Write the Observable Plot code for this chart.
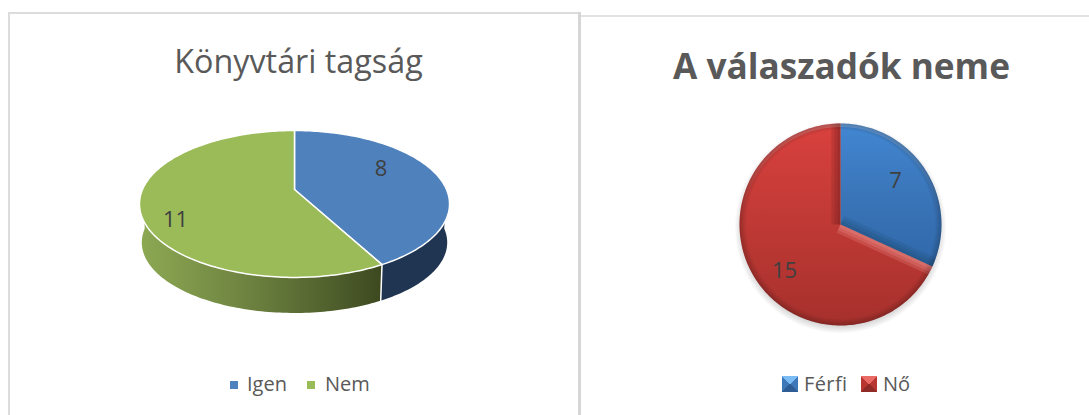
<!DOCTYPE html>
<html><head><meta charset="utf-8">
<script src="https://cdn.jsdelivr.net/npm/d3@7"></script>
<script src="https://cdn.jsdelivr.net/npm/@observablehq/plot@0.6"></script>
<style>
html,body{margin:0;padding:0;background:#fff;width:1089px;height:415px;overflow:hidden;}
.frame{position:absolute;background:#dcdcdc;}
.holder{position:absolute;top:0;}
.holder svg{display:block;background:transparent;}
.title{position:absolute;white-space:nowrap;transform:translateX(-50%);font-family:"Open Sans",sans-serif;}
.leg{position:absolute;white-space:nowrap;font:20px "Open Sans",sans-serif;color:#595959;}
.sw{position:absolute;}
</style></head><body>
<div class="frame" style="left:8px;top:12px;width:2px;height:403px"></div>
<div class="frame" style="left:8px;top:12px;width:572px;height:2px"></div>
<div class="frame" style="left:578px;top:12px;width:3px;height:403px;background:#d6d6d6"></div>
<div class="frame" style="left:581px;top:15px;width:508px;height:2px;background:#e2e2e2"></div>
<div class="title" style="left:298.5px;top:38px;font-size:32.3px;color:#595959;font-weight:400">Könyvtári tagság</div>
<div class="title" style="left:841.5px;top:41px;font-size:35.2px;color:#595959;font-weight:700">A válaszadók neme</div>
<div id="left" class="holder" style="left:0"></div>
<div id="right" class="holder" style="left:581px"></div>
<div class="sw" style="left:230px;top:381px;width:8px;height:8px;background:#4f81bd"></div>
<div class="leg" style="left:247px;top:370px">Igen</div>
<div class="sw" style="left:307px;top:381px;width:8px;height:8px;background:#9bbb59"></div>
<div class="leg" style="left:325px;top:370px">Nem</div>
<div class="sw" style="left:782px;top:376px;width:16px;height:16px;background:conic-gradient(#7cbcf4 0 45deg,#3f78b8 45deg 135deg,#2e5c94 135deg 225deg,#3f78b8 225deg 315deg,#7cbcf4 315deg)"></div>
<div class="leg" style="left:804px;top:370px;letter-spacing:.4px">Férfi</div>
<div class="sw" style="left:861px;top:376px;width:16px;height:16px;background:conic-gradient(#ea6a66 0 45deg,#b83531 45deg 135deg,#8f2a27 135deg 225deg,#b83531 225deg 315deg,#ea6a66 315deg)"></div>
<div class="leg" style="left:883px;top:370px">Nő</div>
<script>
// Data
const libraryCategories = ["Igen", "Nem"];
const libraryValues = [8, 11];
const genderCategories = ["Férfi", "Nő"];
const genderValues = [7, 15];

const W = 581, H = 415, W2 = 508;
const TAU = Math.PI * 2;

// points of a slice sector; a = clockwise from the top, in radians
function arcPoints(a0, a1, r = 1) {
  const n = Math.max(2, Math.ceil(Math.abs(a1 - a0) / 0.02));
  return d3.range(n + 1).map(i => {
    const a = a0 + (a1 - a0) * i / n;
    return {u: r * Math.sin(a), v: -r * Math.cos(a)};
  });
}
function sector(a0, a1, r = 1) {
  return [{u: 0, v: 0}, ...arcPoints(a0, a1, r), {u: 0, v: 0}];
}
function angles(values) {
  return d3.pie().sort(null)(values).map(d => ({a0: d.startAngle, a1: d.endAngle, value: d.value}));
}
function defs(html) {
  return () => {
    const g = document.createElementNS("http://www.w3.org/2000/svg", "defs");
    g.innerHTML = html;
    return g;
  };
}

// ---------- Left: tilted pie with perspective ----------
const P = 0.197;              // perspective strength
const persp = d => {
  const den = 1 - P * d.v;
  return {x: d.u / den, y: d.v / den};
};
// the lower rim is a slightly smaller copy of the upper one, further down
const ELLIPSE_C = 0.205;      // ellipse centre in projected units
const lower = d => {
  const p = persp(d);
  return {x: p.x * 0.985, y: (p.y - ELLIPSE_C) * 0.96 + ELLIPSE_C + 0.545};
};
const leftSlices = angles(libraryValues);
const splitA = leftSlices[0].a1;
const rimAt = a => ({u: Math.sin(a), v: -Math.cos(a)});
const sideBand = (a0, a1) => [...arcPoints(a0, a1).map(persp), ...arcPoints(a0, a1).reverse().map(lower)];
const kx = 152, ky = 70.6, cx = 294, cy = 189;
const leftColors = ["#4f81bd", "#9bbb59"];
const labelPoint = (s, r, f) => {
  const m = (s.a0 + s.a1) / 2;
  return f({u: r * Math.sin(m), v: -r * Math.cos(m)});
};
const labelStyle = {text: "t", fontSize: 22, fill: "#404040", fontFamily: "Open Sans", fontWeight: 400};
const leftLabelPts = leftSlices.map((s, i) => ({...labelPoint(s, 0.67, persp), t: String(libraryValues[i])}));

const leftPlot = Plot.plot({
  width: W, height: H, margin: 0,
  x: {domain: [-cx / kx, (W - cx) / kx], range: [0, W], axis: null},
  y: {domain: [-cy / ky, (H - cy) / ky], range: [0, H], axis: null},
  style: {background: "transparent"},
  marks: [
    defs(`<linearGradient id="gside"><stop offset="0" stop-color="#8da953"/><stop offset=".45" stop-color="#6d8240"/><stop offset=".8" stop-color="#4f5f2c"/><stop offset="1" stop-color="#3d481f"/></linearGradient>`),
    Plot.line(sideBand(splitA, TAU * 0.75), {x: "x", y: "y", fill: "url(#gside)", stroke: "none"}),
    Plot.line(sideBand(TAU * 0.25, splitA), {x: "x", y: "y", fill: "#1f3552", stroke: "none"}),
    Plot.line([persp(rimAt(splitA)), lower(rimAt(splitA))], {x: "x", y: "y", stroke: "#fff", strokeWidth: 1.5}),
    ...leftSlices.map((s, i) => Plot.line(sector(s.a0, s.a1).map(persp), {x: "x", y: "y", fill: leftColors[i], stroke: "#fff", strokeWidth: 1.5, strokeLinejoin: "round"})),
    Plot.text([leftLabelPts[0]], {x: "x", y: "y", dx: -9, dy: -9, ...labelStyle}),
    Plot.text([leftLabelPts[1]], {x: "x", y: "y", dx: -17, dy: 18, ...labelStyle})
  ]
});
document.getElementById("left").append(leftPlot);

// ---------- Right: bevelled pie ----------
const R = 101, rcx = 840 - 581, rcy = 224;
const flat = d => ({x: d.u, y: d.v});
const rightSlices = angles(genderValues);
const rightFills = ["url(#gblue)", "url(#gred)"];
const rightLabelPts = rightSlices.map((s, i) => ({...labelPoint(s, 0.6, flat), t: String(genderValues[i])}));
// a band of constant width w beside the spoke at angle a (dir +1 clockwise, -1 counter-clockwise)
const spokeBand = (a, w, dir) => {
  const n = {u: Math.cos(a) * dir, v: Math.sin(a) * dir};
  const da = dir * Math.asin(w);
  return [{u: 0, v: 0}, ...arcPoints(a, a + da), {u: n.u * w, v: n.v * w}, {u: 0, v: 0}];
};
const bevel = (a, dir, fill, op) => [0.09, 0.06, 0.03].map(w =>
  Plot.line(spokeBand(a, w, dir).map(flat), {x: "x", y: "y", fill, fillOpacity: op, stroke: "none"}));

const rightPlot = Plot.plot({
  width: W2, height: H, margin: 0,
  x: {domain: [-rcx / R, (W2 - rcx) / R], range: [0, W2], axis: null},
  y: {domain: [-rcy / R, (H - rcy) / R], range: [0, H], axis: null},
  style: {background: "transparent"},
  marks: [
    defs(`
      <linearGradient id="gblue" x1="0" y1="0" x2="0" y2="1"><stop offset="0" stop-color="#4287d2"/><stop offset=".5" stop-color="#3a75b9"/><stop offset="1" stop-color="#3069aa"/></linearGradient>
      <linearGradient id="gred" x1="0" y1="0" x2="0" y2="1"><stop offset="0" stop-color="#d9413e"/><stop offset=".5" stop-color="#bf3935"/><stop offset="1" stop-color="#a6302c"/></linearGradient>
      <radialGradient id="gshadow"><stop offset=".9" stop-color="#000" stop-opacity=".22"/><stop offset="1" stop-color="#000" stop-opacity="0"/></radialGradient>
      <radialGradient id="grim"><stop offset=".93" stop-color="#000" stop-opacity="0"/><stop offset="1" stop-color="#000" stop-opacity=".22"/></radialGradient>
      <linearGradient id="gtop" x1="0" y1="0" x2="0" y2="1"><stop offset="0" stop-color="#fff" stop-opacity=".9"/><stop offset=".45" stop-color="#fff" stop-opacity="0"/></linearGradient>
      <mask id="mring"><circle cx="${rcx}" cy="${rcy}" r="${R}" fill="#000"/><circle cx="${rcx}" cy="${rcy}" r="${R * 0.965}" fill="none" stroke="#fff" stroke-width="4" style="filter:blur(1.5px)"/></mask>
    `),
    Plot.line(arcPoints(0, TAU, 1.05).map(d => ({x: d.u, y: d.v + 0.03})), {x: "x", y: "y", fill: "url(#gshadow)", stroke: "none"}),
    ...rightSlices.map((s, i) => Plot.line(sector(s.a0, s.a1).map(flat), {x: "x", y: "y", fill: rightFills[i], stroke: "none"})),
    // bevel bands along the spokes
    ...bevel(0, -1, "#6e1f1c", 0.2),
    ...bevel(rightSlices[1].a0, 1, "#f7a09c", 0.22),
    ...bevel(rightSlices[0].a1, -1, "#1f4a75", 0.2),
    // rim: a soft highlight near the top, darkening at the edge
    Plot.line(arcPoints(0, TAU, 0.985).map(flat), {x: "x", y: "y", fill: "none", stroke: "url(#gtop)", strokeWidth: 4, strokeOpacity: 0.22}),
    Plot.line(arcPoints(0, TAU).map(flat), {x: "x", y: "y", fill: "url(#grim)", stroke: "none"}),
    Plot.text([rightLabelPts[0]], {x: "x", y: "y", dx: 4, dy: -11, ...labelStyle}),
    Plot.text([rightLabelPts[1]], {x: "x", y: "y", dx: -5, dy: 14, ...labelStyle})
  ]
});
document.getElementById("right").append(rightPlot);
</script>
</body></html>
